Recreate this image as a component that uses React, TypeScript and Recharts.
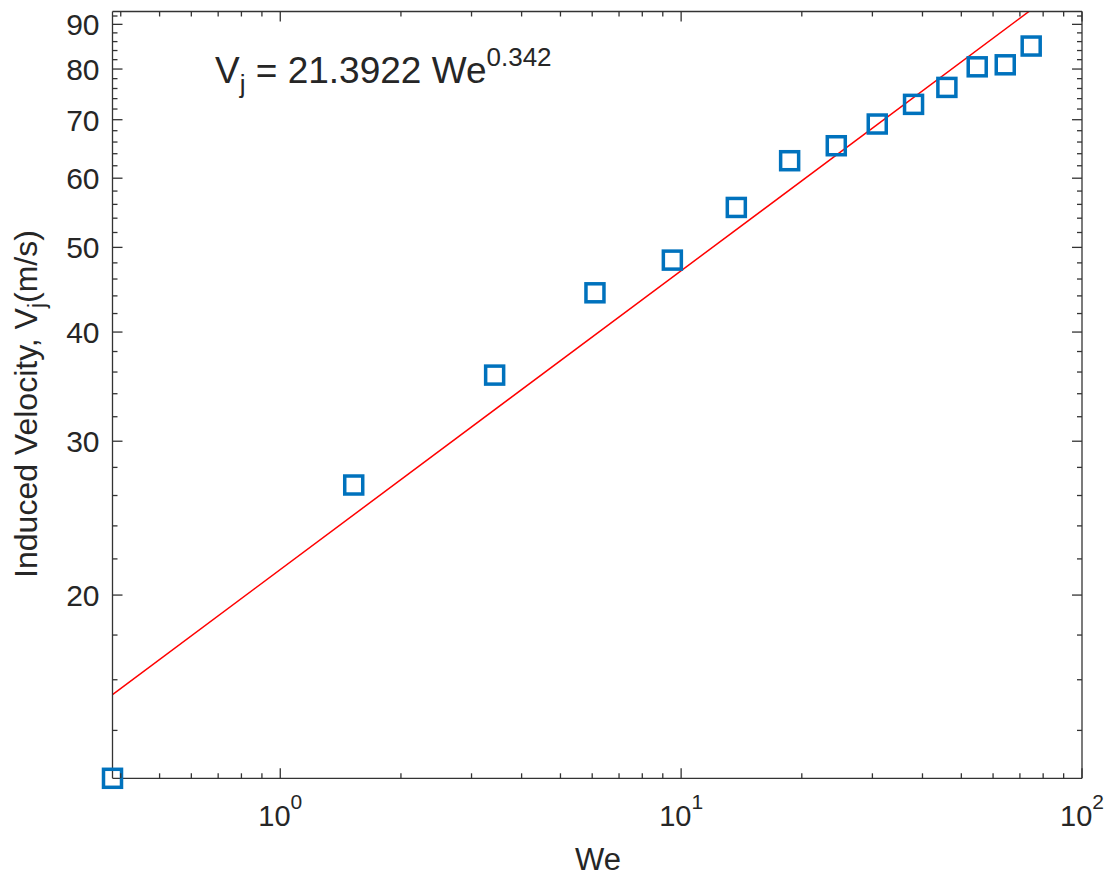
import React from 'react';
import { ComposedChart, Scatter, Line, XAxis, YAxis, Customized } from 'recharts';

// ---- data ----
const weValues = [0.3815, 1.525, 3.426, 6.096, 9.508, 13.73, 18.65, 24.38, 30.85, 38.0, 46.02, 54.78, 64.35, 74.69];
const vjValues = [12.34, 26.73, 35.71, 44.36, 48.35, 55.55, 62.83, 65.36, 69.21, 72.89, 76.22, 80.47, 80.9, 85.0];

// fit shown on the chart: Vj = 21.3922 We^0.342
const fitCoefficient = 21.3922;
const fitExponent = 0.342;
const fitWeRange = [0.3815, 100];

const xDomain: [number, number] = [0.3815, 100];
const yDomain: [number, number] = [12.34, 93.1];

const xTicks = [0.4, 0.5, 0.6, 0.7, 0.8, 0.9, 1, 2, 3, 4, 5, 6, 7, 8, 9, 10, 20, 30, 40, 50, 60, 70, 80, 90, 100];
const xMajorTicks = [1, 10, 100];
const xMajorExponents = ['0', '1', '2'];

const yTicks = [14, 16, 18, 20, 22, 24, 26, 28, 30, 32, 34, 36, 38, 40, 42, 44, 46, 48, 50, 52, 54, 56, 58, 60, 62, 64, 66, 68, 70, 72, 74, 76, 78, 80, 82, 84, 86, 88, 90, 92];
const yMajorTicks = [20, 30, 40, 50, 60, 70, 80, 90];

const xLabel = 'We';
const yLabelMain = 'Induced Velocity, V';
const yLabelSub = 'j';
const yLabelTail = '(m/s)';
const eqLeft = 'V';
const eqSub = 'j';
const eqMid = ' = 21.3922 We';
const eqSup = '0.342';

// ---- built tables ----
const scatterData = weValues.map((x, i) => ({ x, y: vjValues[i] }));
const fitData = fitWeRange.map((x) => ({ x, y: fitCoefficient * Math.pow(x, fitExponent) }));

const FONT = '"Liberation Sans", Arial, Helvetica, sans-serif';
const TXT = '#262626';
const AX = '#333333';
const MARKER = '#0072BD';

const MAJOR_LEN = 10;
const MINOR_LEN = 5;

const SquareMarker = (props: any) => {
  const { cx, cy } = props;
  if (cx == null || cy == null) return null;
  const s = 18;
  return <rect x={cx - s / 2} y={cy - s / 2} width={s} height={s} fill="none" stroke={MARKER} strokeWidth={3.5} />;
};

const BottomTick = (props: any) => {
  const { x, y, payload } = props;
  const v = payload.value;
  const idx = xMajorTicks.indexOf(v);
  const major = idx >= 0;
  return (
    <g>
      <line x1={x} x2={x} y1={y} y2={y - (major ? MAJOR_LEN : MINOR_LEN)} stroke={AX} strokeWidth={1.3} />
      {major && (
        <text x={x} y={y + 47.5} textAnchor="middle" fontFamily={FONT} fontSize={29} fill={TXT}>
          10
          <tspan dy={-17} fontSize={21}>{xMajorExponents[idx]}</tspan>
        </text>
      )}
    </g>
  );
};

const TopTick = (props: any) => {
  const { x, y, payload } = props;
  const major = xMajorTicks.indexOf(payload.value) >= 0;
  return <line x1={x} x2={x} y1={y} y2={y + (major ? MAJOR_LEN : MINOR_LEN)} stroke={AX} strokeWidth={1.3} />;
};

const LeftTick = (props: any) => {
  const { x, y, payload } = props;
  const v = payload.value;
  const major = yMajorTicks.indexOf(v) >= 0;
  return (
    <g>
      <line x1={x} x2={x + (major ? MAJOR_LEN : MINOR_LEN)} y1={y} y2={y} stroke={AX} strokeWidth={1.3} />
      {major && (
        <text x={x - 13} y={y + 11} textAnchor="end" fontFamily={FONT} fontSize={30} fill={TXT}>
          {String(v)}
        </text>
      )}
    </g>
  );
};

const RightTick = (props: any) => {
  const { x, y, payload } = props;
  const major = yMajorTicks.indexOf(payload.value) >= 0;
  return <line x1={x} x2={x - (major ? MAJOR_LEN : MINOR_LEN)} y1={y} y2={y} stroke={AX} strokeWidth={1.3} />;
};

const Texts = () => (
  <g fontFamily={FONT} fill={TXT}>
    <text x={598} y={870} textAnchor="middle" fontSize={31}>{xLabel}</text>
    <text x={37} y={404} textAnchor="middle" fontSize={32} transform="rotate(-90 37 404)">
      {yLabelMain}
      <tspan dy={8} fontSize={23}>{yLabelSub}</tspan>
      <tspan dy={-8} fontSize={32}>{yLabelTail}</tspan>
    </text>
    <text x={215} y={83} fontSize={37}>
      {eqLeft}
      <tspan dy={10} fontSize={26}>{eqSub}</tspan>
      <tspan dy={-10} fontSize={37}>{eqMid}</tspan>
      <tspan dy={-17} fontSize={26}>{eqSup}</tspan>
    </text>
  </g>
);

export default function App() {
  return (
    <div style={{ position: 'absolute', left: 0, top: 0, width: 1107, height: 876, background: '#fff', overflow: 'hidden' }}>
      <ComposedChart
        width={1107}
        height={876}
        margin={{ top: 10.5, right: 24, left: 12.5, bottom: 7.7 }}
      >
        <XAxis
          xAxisId="b"
          dataKey="x"
          type="number"
          scale="log"
          domain={xDomain}
          ticks={xTicks}
          interval={0}
          tickSize={0}
          tickMargin={0}
          tickLine={false}
          tick={(p: any) => <BottomTick {...p} />}
          axisLine={{ stroke: AX, strokeWidth: 1.3 }}
          height={90}
        />
        <XAxis
          xAxisId="t"
          orientation="top"
          dataKey="x"
          type="number"
          scale="log"
          domain={xDomain}
          allowDataOverflow
          ticks={xTicks}
          interval={0}
          tickSize={0}
          tickMargin={0}
          tickLine={false}
          tick={(p: any) => <TopTick {...p} />}
          axisLine={{ stroke: AX, strokeWidth: 1.3 }}
          height={1}
        />
        <YAxis
          yAxisId="l"
          dataKey="y"
          type="number"
          scale="log"
          domain={yDomain}
          ticks={yTicks}
          interval={0}
          tickSize={0}
          tickMargin={0}
          tickLine={false}
          tick={(p: any) => <LeftTick {...p} />}
          axisLine={{ stroke: AX, strokeWidth: 1.3 }}
          width={100}
        />
        <YAxis
          yAxisId="r"
          orientation="right"
          dataKey="y"
          type="number"
          scale="log"
          domain={yDomain}
          allowDataOverflow
          ticks={yTicks}
          interval={0}
          tickSize={0}
          tickMargin={0}
          tickLine={false}
          tick={(p: any) => <RightTick {...p} />}
          axisLine={{ stroke: AX, strokeWidth: 1.3 }}
          width={1}
        />
        <Line
          xAxisId="t"
          yAxisId="r"
          data={fitData}
          dataKey="y"
          stroke="#FF0000"
          strokeWidth={1.5}
          dot={false}
          activeDot={false}
          isAnimationActive={false}
          type="linear"
        />
        <Scatter
          xAxisId="b"
          yAxisId="l"
          data={scatterData}
          dataKey="y"
          shape={<SquareMarker />}
          isAnimationActive={false}
        />
        <Customized component={Texts} />
      </ComposedChart>
    </div>
  );
}
